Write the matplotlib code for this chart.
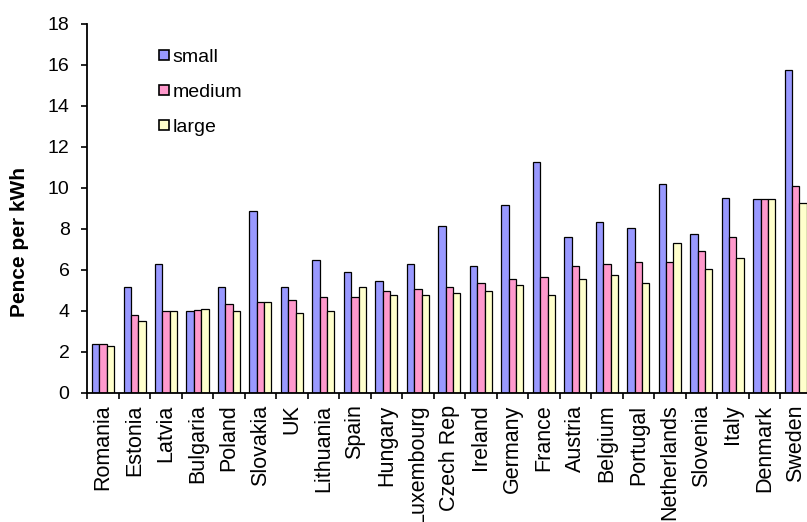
import numpy as np
import matplotlib
matplotlib.use('Agg')
import matplotlib.pyplot as plt
from matplotlib.lines import Line2D
from matplotlib.ticker import FixedLocator

plt.rcParams['font.family'] = ['Liberation Sans', 'DejaVu Sans']

countries = ['Romania', 'Estonia', 'Latvia', 'Bulgaria', 'Poland', 'Slovakia', 'UK',
             'Lithuania', 'Spain', 'Hungary', 'Luxembourg', 'Czech Rep', 'Ireland',
             'Germany', 'France', 'Austria', 'Belgium', 'Portugal', 'Netherlands',
             'Slovenia', 'Italy', 'Denmark', 'Sweden']
small = [2.4, 5.15, 6.3, 4.0, 5.15, 8.85, 5.15, 6.5, 5.9, 5.45, 6.3, 8.15, 6.2,
         9.15, 11.25, 7.6, 8.35, 8.05, 10.2, 7.75, 9.5, 9.45, 15.75]
medium = [2.4, 3.8, 4.0, 4.05, 4.35, 4.45, 4.55, 4.65, 4.65, 4.95, 5.05, 5.15, 5.35,
          5.55, 5.65, 6.2, 6.3, 6.4, 6.4, 6.9, 7.6, 9.45, 10.1]
large = [2.3, 3.5, 4.0, 4.1, 4.0, 4.45, 3.9, 4.0, 5.15, 4.75, 4.75, 4.85, 4.95,
         5.25, 4.75, 5.55, 5.75, 5.35, 7.3, 6.05, 6.6, 9.45, 9.25]
series = ['small', 'medium', 'large']
colors = ['#9999FF', '#FF99CC', '#FFFFCC']

fig = plt.figure(figsize=(8.07, 5.22), dpi=100)
ax = fig.add_axes([87.3/807, 1 - 392.7/522, (811.5 - 87.3)/807, (392.7 - 24)/522])

x = np.arange(len(countries))
w = 0.233
for i, (vals, c) in enumerate(zip([small, medium, large], colors)):
    ax.bar(x + (i - 1) * w, vals, w, color=c, edgecolor='black', linewidth=0.9)

ax.set_xlim(-0.5, len(countries) - 0.5)
ax.set_ylim(0, 18)
ax.set_yticks(range(0, 19, 2))
ax.set_xticks(x)
ax.set_xticklabels(countries, rotation=90, fontsize=15.5)
ax.xaxis.set_minor_locator(FixedLocator(np.arange(-0.5, len(countries), 1)))
ax.tick_params(axis='x', which='major', length=0, pad=8.5)
ax.tick_params(axis='x', which='minor', length=4.5, width=1.2, direction='out')
ax.tick_params(axis='y', length=4.3, width=1.2, pad=8.5, labelsize=14)
for s in ['top', 'right']:
    ax.spines[s].set_visible(False)
for s in ['left', 'bottom']:
    ax.spines[s].set_linewidth(1.3)

fig.text(20/807, 1 - 242/522, 'Pence per kWh', rotation=90, ha='center', va='center',
         fontsize=15, fontweight='bold')

# square markers for the legend keys
handles = [Line2D([], [], linestyle='none', marker='s', markersize=7.5,
                  markerfacecolor=c, markeredgecolor='black', markeredgewidth=1.2)
           for c in colors]
fig.legend(handles, series, loc='upper left', bbox_to_anchor=(157/807, 1 - 48/522),
           frameon=False, fontsize=14, handlelength=0.7, handletextpad=0.1,
           labelspacing=0.9, borderpad=0, borderaxespad=0)

fig.savefig('out.png', dpi=100)
